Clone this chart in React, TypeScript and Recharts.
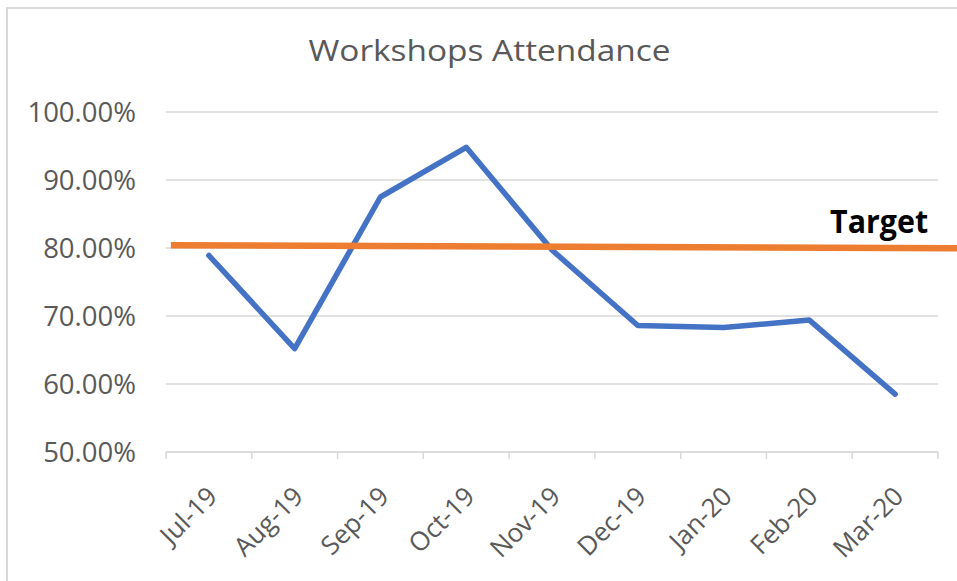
import React from 'react';
import { ComposedChart, Line, XAxis, YAxis, CartesianGrid, ReferenceLine } from 'recharts';

const months = ['Jul-19', 'Aug-19', 'Sep-19', 'Oct-19', 'Nov-19', 'Dec-19', 'Jan-20', 'Feb-20', 'Mar-20'];
const attendance = [0.789, 0.652, 0.875, 0.948, 0.797, 0.686, 0.683, 0.694, 0.585];
const yTicks = [0.5, 0.6, 0.7, 0.8, 0.9, 1.0];
const targetStart = 0.804;
const targetEnd = 0.8;
const targetLabel = 'Target';
const title = 'Workshops Attendance';

const data = months.map((m, i) => ({ month: m, attendance: attendance[i] }));

const GRID = '#d9d9d9';
const TEXT = '#595959';
const FONT = '"Open Sans", sans-serif';

const XTick = (props: any) => {
  const { x, y, payload, index } = props;
  const half = payload?.offset ?? 0;
  const isLast = index === months.length - 1;
  return (
    <g>
      <line x1={x - half} y1={y} x2={x - half} y2={y + 7} stroke={GRID} strokeWidth={1.5} />
      {isLast && <line x1={x + half} y1={y} x2={x + half} y2={y + 7} stroke={GRID} strokeWidth={1.5} />}
      <text
        transform={`translate(${x + 10},${y + 46}) rotate(-45)`}
        textAnchor="end"
        fill={TEXT}
        fontSize={26}
        fontFamily={FONT}
      >
        {payload.value}
      </text>
    </g>
  );
};

const TargetShape = (props: any) => {
  const { x1, y1, x2, y2 } = props;
  const m = (y2 - y1) / (x2 - x1);
  const sx = x1 - 38;
  const ex = x2 + 62;
  return (
    <g>
      <line
        x1={sx}
        y1={y1 - 38 * m}
        x2={ex}
        y2={y2 + 62 * m}
        stroke="#ED7D31"
        strokeWidth={6.5}
      />
      <text
        x={x2 + 33}
        y={y2 - 15}
        textAnchor="end"
        fontFamily={FONT}
        fontWeight={700}
        fontSize={33}
        fill="#000000"
        textLength={98}
        lengthAdjust="spacingAndGlyphs"
      >
        {targetLabel}
      </text>
    </g>
  );
};

export default function App() {
  return (
    <div style={{ position: 'absolute', left: 0, top: 0, width: 957, height: 581, overflow: 'hidden', background: '#fff' }}>
      <div
        style={{
          position: 'absolute',
          left: 6,
          top: 7,
          width: 1100,
          height: 1100,
          border: `2px solid ${GRID}`,
          boxSizing: 'border-box',
        }}
      />
      <div style={{ position: 'absolute', left: 0, top: 0 }}>
        <ComposedChart width={957} height={581} data={data} margin={{ top: 112, right: 19, bottom: 0, left: 0 }}>
          <CartesianGrid horizontal vertical={false} stroke={GRID} strokeWidth={1.5} />
          <XAxis
            dataKey="month"
            type="category"
            scale="band"
            interval={0}
            height={129}
            axisLine={{ stroke: GRID, strokeWidth: 1.5 }}
            tickLine={false}
            tickSize={0}
            tickMargin={0}
            tick={<XTick />}
          />
          <YAxis
            type="number"
            domain={[0.5, 1]}
            ticks={yTicks}
            width={166}
            axisLine={false}
            tickLine={false}
            tickSize={0}
            tickMargin={30}
            tickFormatter={(v: number) => `${(v * 100).toFixed(2)}%`}
            tick={{ fill: TEXT, fontSize: 27.5, fontFamily: FONT }}
          />
          <Line
            type="linear"
            dataKey="attendance"
            stroke="#4472C4"
            strokeWidth={5.5}
            strokeLinecap="round"
            strokeLinejoin="round"
            dot={false}
            activeDot={false}
            isAnimationActive={false}
          />
          <ReferenceLine
            segment={[
              { x: months[0], y: targetStart },
              { x: months[months.length - 1], y: targetEnd },
            ]}
            shape={<TargetShape />}
          />
        </ComposedChart>
      </div>
      <svg style={{ position: 'absolute', left: 0, top: 0 }} width={957} height={100}>
        <text
          x={489.5}
          y={61}
          textAnchor="middle"
          fontFamily={FONT}
          fontSize={30}
          fill={TEXT}
          textLength={362}
          lengthAdjust="spacingAndGlyphs"
        >
          {title}
        </text>
      </svg>
    </div>
  );
}
